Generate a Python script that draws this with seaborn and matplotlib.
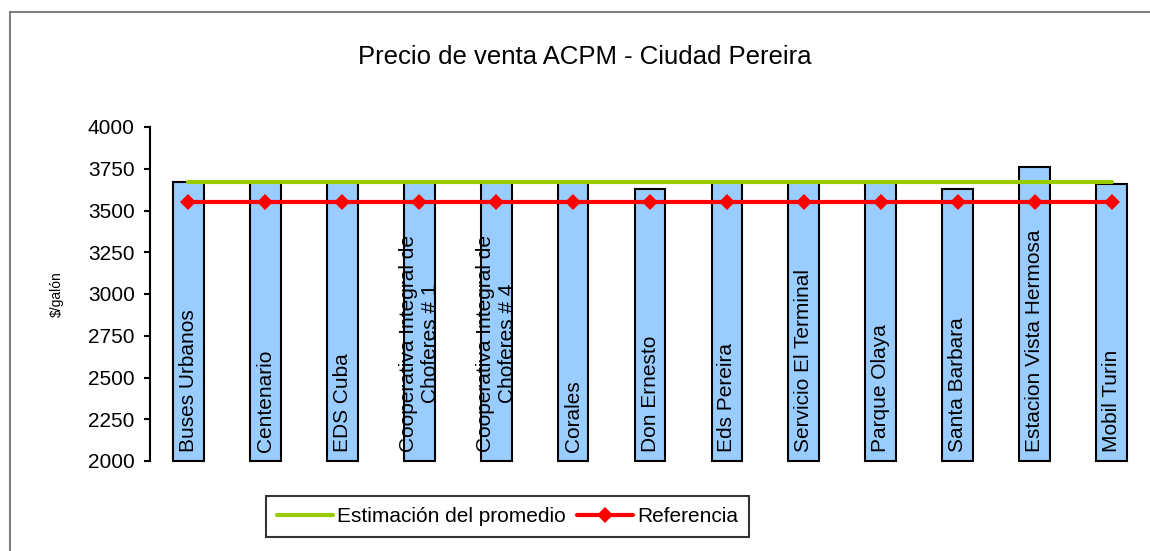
import numpy as np
import pandas as pd
import seaborn as sns
import matplotlib.pyplot as plt
from matplotlib.patches import Rectangle
from matplotlib.lines import Line2D

# Daten
estaciones = ['Buses Urbanos', 'Centenario', 'EDS Cuba',
              'Cooperativa Integral de\nChoferes # 1',
              'Cooperativa Integral de\nChoferes # 4',
              'Corales', 'Don Ernesto', 'Eds Pereira', 'Servicio El Terminal',
              'Parque Olaya', 'Santa Barbara', 'Estacion Vista Hermosa',
              'Mobil Turin']
precio = [3672, 3670, 3670, 3670, 3670, 3670, 3629, 3670, 3670, 3670,
          3629, 3759, 3660]
promedio = [3668] * 13
referencia = [3548] * 13
y_ticks = [2000, 2250, 2500, 2750, 3000, 3250, 3500, 3750, 4000]

sns.set_theme(style='white')
plt.rcParams['font.family'] = ['Liberation Sans', 'DejaVu Sans']
plt.rcParams['text.color'] = 'black'
plt.rcParams['axes.labelcolor'] = 'black'

datos = pd.DataFrame({'estacion': estaciones, 'precio': precio,
                      'pos': np.arange(len(estaciones)),
                      'promedio': promedio, 'referencia': referencia})

fig = plt.figure(figsize=(11.5, 5.51), dpi=100)
ax = fig.add_axes([150 / 1150, 1 - 461 / 551, 1000 / 1150, (461 - 127) / 551])

sns.barplot(ax=ax, data=datos, x='estacion', y='precio', width=0.40,
            color='#99CCFF', saturation=1, edgecolor='black', linewidth=1.5)
# Balken starten bei 2000
for p in ax.patches:
    h = p.get_height()
    p.set_y(2000)
    p.set_height(h - 2000)
    p.set_clip_on(False)

sns.lineplot(ax=ax, data=datos, x='pos', y='promedio', color='#99CC00',
             linewidth=3, zorder=5)
sns.lineplot(ax=ax, data=datos, x='pos', y='referencia', color='#FF0000',
             linewidth=3, marker='D', markersize=8, markeredgewidth=0,
             zorder=6)

for i, nombre in enumerate(estaciones):
    ax.annotate(nombre, (i, 2000), xytext=(0, 6.5), textcoords='offset points',
                rotation=90, ha='center', va='bottom', multialignment='center',
                fontsize=15, color='black', zorder=4)

ax.set_xlim(-0.5, 12.5)
ax.set_ylim(2000, 4000)
ax.set_yticks(y_ticks)
ax.set_xticks([])
ax.set_xlabel('')
ax.set_ylabel('$/galón', fontsize=10, labelpad=17)
ax.tick_params(axis='y', left=True, direction='out', length=4, width=1.5,
               labelsize=15, pad=7, colors='black')
for s in ['top', 'right', 'bottom']:
    ax.spines[s].set_visible(False)
ax.spines['left'].set_color('black')
ax.spines['left'].set_linewidth(1.5)

fig.text(585 / 1150, 1 - 57 / 551, 'Precio de venta ACPM - Ciudad Pereira',
         ha='center', va='center', fontsize=18.5, color='black')

handles = [Line2D([], [], color='#99CC00', linewidth=3),
           Line2D([], [], color='#FF0000', linewidth=3, marker='D',
                  markersize=8, markeredgewidth=0)]
leg = fig.legend(handles, ['Estimación del promedio', 'Referencia'],
                 loc='center', bbox_to_anchor=(507.5 / 1150, 1 - 516.5 / 551),
                 ncol=2, fontsize=15, frameon=True, fancybox=False,
                 handlelength=2.7, handletextpad=0.2, columnspacing=0.5,
                 borderpad=0.55, borderaxespad=0)
leg.get_frame().set_edgecolor('black')
leg.get_frame().set_linewidth(1.5)

fig.patches.append(Rectangle((10 / 1150, -0.2), 2, 1 - 12 / 551 + 0.2,
                             transform=fig.transFigure, fill=False,
                             edgecolor='#808080', linewidth=1.5))

fig.savefig('out.png', dpi=100)
